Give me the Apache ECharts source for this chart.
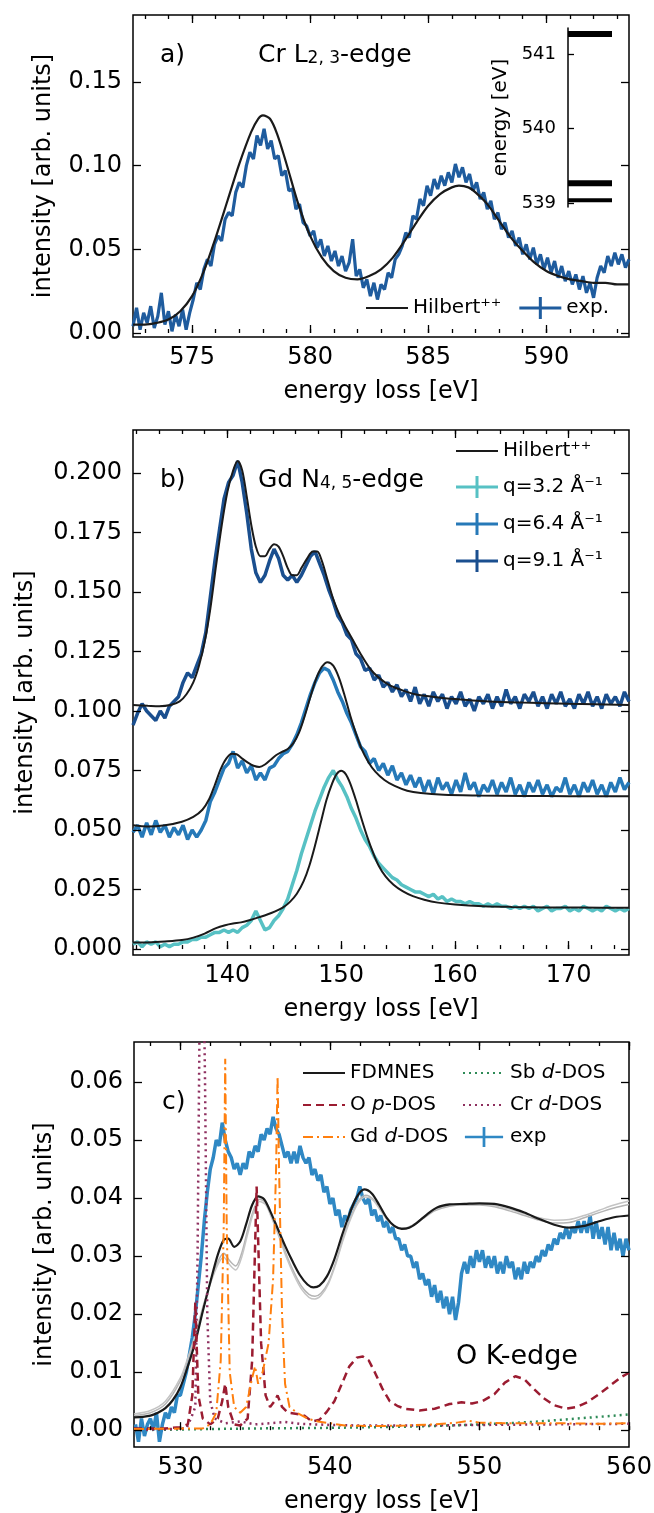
<!DOCTYPE html>
<html>
<head>
<meta charset="utf-8">
<script src="https://cdn.jsdelivr.net/npm/echarts@6/dist/echarts.min.js"></script>
<style>
  html, body { margin: 0; padding: 0; background: #fff; }
  #chart { width: 654px; height: 1513px; }
</style>
</head>
<body>
<div id="chart"></div>
<script>
// ---------- panel a) Cr L2,3-edge ----------
const aXTicks = [575, 580, 585, 590];
const aYTicks = [0, 0.05, 0.10, 0.15];
const aExpX0 = 572.5, aExpStep = 0.15;
const aExp = [
  0.004, 0.015, 0.002, 0.012, 0.006, 0.016, 0.003, 0.010, 0.024, 0.005,
  0.013, 0.001, 0.011, 0.004, 0.014, 0.002, 0.012, 0.020, 0.030, 0.026,
  0.038, 0.044, 0.040, 0.053, 0.058, 0.055, 0.068, 0.072, 0.070, 0.084,
  0.090, 0.087, 0.100, 0.108, 0.104, 0.118, 0.112, 0.122, 0.110, 0.115,
  0.104, 0.106, 0.094, 0.097, 0.085, 0.086, 0.074, 0.077, 0.066, 0.064,
  0.058, 0.061, 0.051, 0.056, 0.046, 0.052, 0.043, 0.049, 0.040, 0.046,
  0.037, 0.042, 0.056, 0.034, 0.038, 0.027, 0.032, 0.022, 0.030, 0.020,
  0.029, 0.026, 0.036, 0.033, 0.044, 0.047, 0.052, 0.060, 0.057, 0.070,
  0.068, 0.080, 0.076, 0.088, 0.082, 0.092, 0.086, 0.094, 0.088, 0.096,
  0.090, 0.101, 0.093, 0.099, 0.090, 0.095, 0.085, 0.090, 0.080, 0.084,
  0.074, 0.079, 0.068, 0.072, 0.062, 0.066, 0.057, 0.061, 0.052, 0.057,
  0.047, 0.053, 0.044, 0.051, 0.041, 0.047, 0.038, 0.045, 0.036, 0.043,
  0.033, 0.040, 0.031, 0.037, 0.029, 0.035, 0.026, 0.034, 0.024, 0.030,
  0.021, 0.033, 0.040, 0.036, 0.046, 0.040, 0.048, 0.041, 0.047, 0.039,
  0.044
];
const aTheory = [
  [572.5, 0.005], [573, 0.005], [573.5, 0.006], [574, 0.008], [574.5, 0.013], [575, 0.022],
  [575.5, 0.037], [576, 0.057], [576.5, 0.079], [577, 0.101], [577.5, 0.120], [577.8, 0.128],
  [578, 0.130], [578.3, 0.128], [578.6, 0.119], [579, 0.101], [579.5, 0.077], [580, 0.058],
  [580.5, 0.045], [581, 0.037], [581.5, 0.033], [582, 0.032], [582.5, 0.034], [583, 0.038],
  [583.5, 0.045], [584, 0.055], [584.5, 0.066], [585, 0.076], [585.5, 0.083], [586, 0.087],
  [586.3, 0.088], [586.7, 0.087], [587, 0.084], [587.5, 0.077], [588, 0.067], [588.5, 0.057],
  [589, 0.049], [589.5, 0.042], [590, 0.037], [590.5, 0.034], [591, 0.032], [591.5, 0.031],
  [592, 0.030], [592.5, 0.030], [593, 0.029], [593.5, 0.029]
];
// inset: energy levels
const aLevels = [541.27, 539.27, 539.04];
const aLevelTicks = [539, 540, 541];

// ---------- panel b) Gd N4,5-edge ----------
const bXTicks = [140, 150, 160, 170];
const bYTicks = [0, 0.025, 0.05, 0.075, 0.10, 0.125, 0.15, 0.175, 0.20];
const bExpX0 = 131.7, bExpStep = 0.4;
const bExpQ9 = [
  0.094, 0.099, 0.103, 0.100, 0.098, 0.096, 0.100, 0.097, 0.102, 0.104,
  0.106, 0.112, 0.116, 0.114, 0.119, 0.124, 0.133, 0.148, 0.163, 0.176,
  0.189, 0.196, 0.199, 0.205, 0.196, 0.183, 0.168, 0.158, 0.154, 0.157,
  0.163, 0.168, 0.164, 0.157, 0.155, 0.157, 0.154, 0.157, 0.161, 0.165,
  0.167, 0.162, 0.157, 0.151, 0.146, 0.140, 0.137, 0.132, 0.130, 0.124,
  0.122, 0.117, 0.118, 0.113, 0.115, 0.110, 0.112, 0.108, 0.111, 0.106,
  0.109, 0.104, 0.110, 0.103, 0.107, 0.102, 0.108, 0.104, 0.107, 0.101,
  0.106, 0.103, 0.108, 0.102, 0.105, 0.100, 0.106, 0.103, 0.107, 0.101,
  0.106, 0.102, 0.109, 0.103, 0.106, 0.101, 0.107, 0.104, 0.108, 0.102,
  0.106, 0.101, 0.107, 0.103, 0.108, 0.102, 0.105, 0.101, 0.107, 0.103,
  0.108, 0.102, 0.106, 0.101, 0.107, 0.103, 0.106, 0.102, 0.108, 0.104
];
const bExpQ6 = [
  0.049, 0.052, 0.047, 0.053, 0.048, 0.054, 0.049, 0.052, 0.047, 0.051,
  0.048, 0.052, 0.046, 0.050, 0.047, 0.050, 0.054, 0.062, 0.066, 0.071,
  0.076, 0.078, 0.083, 0.076, 0.079, 0.074, 0.077, 0.071, 0.074, 0.071,
  0.076, 0.077, 0.080, 0.082, 0.083, 0.086, 0.090, 0.095, 0.101, 0.107,
  0.112, 0.116, 0.118, 0.117, 0.113, 0.108, 0.104, 0.099, 0.095, 0.090,
  0.085, 0.083, 0.078, 0.080, 0.075, 0.078, 0.073, 0.077, 0.071, 0.074,
  0.069, 0.073, 0.068, 0.072, 0.066, 0.071, 0.065, 0.072, 0.067, 0.070,
  0.065, 0.071, 0.066, 0.074, 0.067, 0.070, 0.064, 0.069, 0.066, 0.071,
  0.065, 0.070, 0.066, 0.072, 0.065, 0.069, 0.064, 0.070, 0.066, 0.071,
  0.065, 0.069, 0.064, 0.068, 0.066, 0.072, 0.065, 0.069, 0.064, 0.070,
  0.066, 0.071, 0.065, 0.069, 0.064, 0.070, 0.066, 0.072, 0.067, 0.070
];
const bExpQ3 = [
  0.002, 0.003, 0.001, 0.003, 0.002, 0.003, 0.001, 0.002, 0.001, 0.002,
  0.002, 0.003, 0.003, 0.004, 0.004, 0.005, 0.005, 0.006, 0.007, 0.007,
  0.008, 0.007, 0.008, 0.007, 0.009, 0.010, 0.012, 0.016, 0.012, 0.008,
  0.009, 0.012, 0.014, 0.017, 0.021, 0.027, 0.033, 0.040, 0.046, 0.052,
  0.058, 0.063, 0.068, 0.072, 0.075, 0.071, 0.068, 0.064, 0.059, 0.055,
  0.050, 0.046, 0.043, 0.039, 0.036, 0.034, 0.032, 0.030, 0.029, 0.027,
  0.026, 0.025, 0.024, 0.024, 0.023, 0.022, 0.023, 0.021, 0.022, 0.020,
  0.021, 0.020, 0.020, 0.019, 0.020, 0.019, 0.019, 0.018, 0.019, 0.018,
  0.019, 0.018, 0.018, 0.017, 0.018, 0.017, 0.018, 0.017, 0.018, 0.016,
  0.017, 0.018, 0.016, 0.017, 0.017, 0.018, 0.016, 0.017, 0.016, 0.018,
  0.017, 0.016, 0.017, 0.016, 0.018, 0.017, 0.016, 0.017, 0.016, 0.017
];
const bTheoQ9 = [
  [131.7, 0.1025], [133, 0.1022], [134, 0.102], [135, 0.1025], [135.8, 0.104], [136.4, 0.107],
  [137, 0.112], [137.5, 0.119], [138, 0.129], [138.5, 0.143], [139, 0.161], [139.5, 0.178],
  [140, 0.192], [140.5, 0.201], [140.9, 0.205], [141.3, 0.201], [141.7, 0.190], [142.1, 0.178],
  [142.5, 0.169], [142.9, 0.165], [143.3, 0.165], [143.7, 0.168], [144.1, 0.170], [144.5, 0.169],
  [144.9, 0.165], [145.3, 0.160], [145.7, 0.157], [146.1, 0.157], [146.5, 0.160], [147, 0.164],
  [147.5, 0.167], [147.9, 0.167], [148.3, 0.163], [148.8, 0.155], [149.3, 0.147], [149.8, 0.141],
  [150.3, 0.136], [151, 0.130], [151.7, 0.124], [152.5, 0.118], [153.3, 0.114], [154.2, 0.111],
  [155.2, 0.109], [156.5, 0.107], [158, 0.106], [160, 0.105], [163, 0.104], [166, 0.1035],
  [170, 0.103], [175.3, 0.1025]
];
const bTheoQ6 = [
  [131.7, 0.052], [133, 0.0515], [134.5, 0.052], [136, 0.0535], [137, 0.0555], [137.8, 0.0585],
  [138.4, 0.063], [138.9, 0.069], [139.4, 0.0755], [139.9, 0.080], [140.4, 0.082], [140.8, 0.0818],
  [141.3, 0.080], [141.8, 0.0783], [142.3, 0.077], [142.8, 0.0765], [143.3, 0.0775], [143.8, 0.0795],
  [144.3, 0.0815], [144.8, 0.0828], [145.3, 0.084], [145.8, 0.0865], [146.3, 0.091], [146.8, 0.098],
  [147.3, 0.106], [147.8, 0.1135], [148.3, 0.1185], [148.8, 0.1205], [149.3, 0.119], [149.8, 0.114],
  [150.3, 0.1065], [150.8, 0.098], [151.3, 0.0905], [151.8, 0.084], [152.4, 0.0785], [153, 0.0745],
  [153.8, 0.071], [154.7, 0.0685], [155.8, 0.0665], [157, 0.0655], [159, 0.0648], [162, 0.0645],
  [166, 0.0643], [170, 0.0642], [175.3, 0.0642]
];
const bTheoQ3 = [
  [131.7, 0.0027], [133, 0.0028], [134.5, 0.0032], [136, 0.0038], [137, 0.0048], [138, 0.0065],
  [139, 0.0088], [139.8, 0.010], [140.5, 0.0107], [141.2, 0.0112], [142, 0.0122], [142.8, 0.0134],
  [143.5, 0.0145], [144.2, 0.0158], [144.9, 0.0175], [145.5, 0.0198], [146.1, 0.0232], [146.7, 0.0285],
  [147.2, 0.035], [147.7, 0.0435], [148.2, 0.053], [148.7, 0.0625], [149.2, 0.0695], [149.6, 0.0735],
  [150, 0.0749], [150.4, 0.0735], [150.8, 0.0695], [151.3, 0.0625], [151.8, 0.0545], [152.3, 0.047],
  [152.8, 0.0405], [153.3, 0.035], [153.9, 0.0305], [154.6, 0.027], [155.4, 0.0243], [156.3, 0.0222],
  [157.3, 0.0207], [158.5, 0.0195], [160, 0.0187], [162.5, 0.018], [165, 0.0177], [168, 0.0175],
  [171, 0.0174], [175.3, 0.0173]
];

// ---------- panel c) O K-edge ----------
const cXTicks = [530, 540, 550, 560];
const cYTicks = [0, 0.01, 0.02, 0.03, 0.04, 0.05, 0.06];
const cExpX0 = 527.0, cExpStep = 0.2;
const cExp = [
  0.001, -0.002, 0.002, -0.001, 0.001, 0.002, 0.000, 0.003, -0.002, 0.001,
  0.003, 0.002, 0.004, 0.003, 0.006, 0.006, 0.008, 0.010, 0.013, 0.016,
  0.020, 0.025, 0.030, 0.036, 0.041, 0.045, 0.047, 0.050, 0.049, 0.053,
  0.050, 0.048, 0.047, 0.045, 0.046, 0.044, 0.046, 0.045, 0.048, 0.047,
  0.049, 0.048, 0.051, 0.050, 0.052, 0.051, 0.054, 0.052, 0.051, 0.049,
  0.047, 0.048, 0.046, 0.048, 0.046, 0.049, 0.047, 0.046, 0.047, 0.044,
  0.045, 0.043, 0.044, 0.041, 0.042, 0.039, 0.040, 0.037, 0.038, 0.035,
  0.037, 0.036, 0.038, 0.039, 0.040, 0.042, 0.040, 0.039, 0.040, 0.037,
  0.038, 0.036, 0.037, 0.035, 0.036, 0.034, 0.035, 0.033, 0.033, 0.031,
  0.032, 0.030, 0.030, 0.028, 0.029, 0.026, 0.027, 0.025, 0.026, 0.023,
  0.025, 0.022, 0.024, 0.021, 0.023, 0.020, 0.023, 0.019, 0.022, 0.027,
  0.029, 0.027, 0.030, 0.028, 0.031, 0.029, 0.031, 0.028, 0.030, 0.028,
  0.030, 0.027, 0.029, 0.027, 0.030, 0.028, 0.029, 0.026, 0.028, 0.026,
  0.029, 0.027, 0.029, 0.028, 0.030, 0.029, 0.031, 0.030, 0.032, 0.031,
  0.033, 0.032, 0.034, 0.033, 0.035, 0.033, 0.035, 0.034, 0.036, 0.034,
  0.036, 0.034, 0.037, 0.033, 0.036, 0.033, 0.035, 0.032, 0.035, 0.031,
  0.034, 0.031, 0.033, 0.030, 0.033, 0.031
];
const cFdmnes = [
  [526.9, 0.0022], [527.5, 0.0023], [528, 0.0025], [528.5, 0.003], [529, 0.0038], [529.5, 0.0052],
  [530, 0.0074], [530.5, 0.011], [531, 0.0152], [531.5, 0.0205], [532, 0.0255], [532.5, 0.0302],
  [532.9, 0.0328], [533.2, 0.033], [533.6, 0.0316], [534, 0.0325], [534.4, 0.0355], [534.8, 0.0388],
  [535.2, 0.0403], [535.6, 0.0398], [536, 0.0378], [536.5, 0.0348], [537, 0.0318], [537.5, 0.0291],
  [538, 0.0267], [538.5, 0.0251], [538.9, 0.0246], [539.3, 0.0249], [539.8, 0.0265], [540.3, 0.0295],
  [540.8, 0.0335], [541.3, 0.0372], [541.8, 0.0402], [542.3, 0.0415], [542.8, 0.0408], [543.3, 0.0388],
  [543.8, 0.0366], [544.3, 0.0352], [544.8, 0.0347], [545.3, 0.0349], [545.8, 0.0357], [546.5, 0.0372],
  [547.2, 0.0384], [548, 0.0389], [549, 0.039], [550, 0.0391], [551, 0.039], [552, 0.0384],
  [553, 0.0375], [554, 0.0364], [555, 0.0354], [556, 0.0349], [557, 0.0352], [558, 0.036],
  [559, 0.0367], [560, 0.037]
];
const cFdmnesAlt1 = [
  [526.9, 0.0025], [528, 0.003], [529, 0.0045], [530, 0.0085], [530.5, 0.012], [531, 0.016],
  [531.5, 0.021], [532, 0.0255], [532.5, 0.029], [532.9, 0.0305], [533.3, 0.0292], [533.7, 0.0283],
  [534.1, 0.0305], [534.5, 0.0345], [534.9, 0.038], [535.3, 0.0398], [535.7, 0.0392], [536.1, 0.037],
  [536.6, 0.0338], [537.1, 0.0302], [537.6, 0.0272], [538.1, 0.0248], [538.6, 0.0234], [539, 0.0231],
  [539.4, 0.0236], [539.9, 0.0255], [540.4, 0.029], [540.9, 0.0332], [541.4, 0.0368], [541.9, 0.0395],
  [542.4, 0.0405], [542.9, 0.0398], [543.4, 0.038], [543.9, 0.0362], [544.4, 0.0351], [544.9, 0.0348],
  [545.5, 0.0352], [546.2, 0.0364], [547, 0.0378], [548, 0.0386], [549, 0.0388], [550, 0.0388],
  [551, 0.0385], [552, 0.0378], [553, 0.037], [554, 0.0362], [555, 0.0357], [556, 0.0358],
  [557, 0.0366], [558, 0.0375], [559, 0.0383], [560, 0.0389]
];
const cFdmnesAlt2 = [
  [526.9, 0.0028], [528, 0.0034], [529, 0.005], [530, 0.009], [530.5, 0.0125], [531, 0.0165],
  [531.5, 0.0212], [532, 0.0252], [532.5, 0.0285], [532.9, 0.0298], [533.3, 0.0285], [533.7, 0.0276],
  [534.1, 0.0298], [534.5, 0.0338], [534.9, 0.0375], [535.3, 0.0394], [535.7, 0.0389], [536.1, 0.0366],
  [536.6, 0.0333], [537.1, 0.0297], [537.6, 0.0267], [538.1, 0.0243], [538.6, 0.0229], [539, 0.0226],
  [539.4, 0.0232], [539.9, 0.0252], [540.4, 0.0287], [540.9, 0.0329], [541.4, 0.0365], [541.9, 0.0392],
  [542.4, 0.0402], [542.9, 0.0396], [543.4, 0.0378], [543.9, 0.036], [544.4, 0.035], [544.9, 0.0348],
  [545.5, 0.0353], [546.2, 0.0366], [547, 0.038], [548, 0.0388], [549, 0.039], [550, 0.039],
  [551, 0.0387], [552, 0.0381], [553, 0.0373], [554, 0.0366], [555, 0.0362], [556, 0.0363],
  [557, 0.037], [558, 0.0379], [559, 0.0388], [560, 0.0395]
];
const cOpDos = [
  [526.9, 0.0003], [529, 0.0003], [530, 0.0005], [530.5, 0.001], [530.8, 0.006], [531.0, 0.022],
  [531.2, 0.006], [531.5, 0.002], [532, 0.001], [532.5, 0.002], [532.8, 0.005], [533.0, 0.008],
  [533.2, 0.004], [533.6, 0.001], [534, 0.0008], [534.5, 0.002], [534.8, 0.012], [535.1, 0.042],
  [535.4, 0.015], [535.7, 0.006], [536.0, 0.004], [536.3, 0.005], [536.5, 0.006], [536.8, 0.004],
  [537.2, 0.003], [537.8, 0.0028], [538.3, 0.0025], [538.8, 0.0015], [539.3, 0.0018], [539.8, 0.0032],
  [540.3, 0.005], [540.8, 0.008], [541.3, 0.011], [541.8, 0.0125], [542.2, 0.0127], [542.6, 0.012],
  [543.0, 0.010], [543.5, 0.0072], [544, 0.005], [544.5, 0.0042], [545, 0.0037], [546, 0.0034],
  [547, 0.0037], [548, 0.0045], [548.8, 0.0048], [549.5, 0.0046], [550.2, 0.005], [551, 0.0062],
  [551.7, 0.0082], [552.4, 0.0093], [553, 0.0088], [553.6, 0.0072], [554.3, 0.0055], [555, 0.0043],
  [555.8, 0.0037], [556.5, 0.004], [557.2, 0.0048], [558, 0.0062], [558.8, 0.0078], [559.5, 0.0092],
  [560, 0.0099]
];
const cGdDos = [
  [526.9, 0.0002], [531.5, 0.0003], [532.0, 0.001], [532.4, 0.003], [532.7, 0.012], [532.9, 0.035],
  [533.0, 0.064], [533.1, 0.035], [533.3, 0.010], [533.6, 0.004], [534.0, 0.003], [534.4, 0.004],
  [534.8, 0.009], [535.0, 0.011], [535.2, 0.008], [535.5, 0.010], [535.9, 0.015], [536.2, 0.026],
  [536.4, 0.045], [536.5, 0.061], [536.6, 0.045], [536.8, 0.020], [537.0, 0.008], [537.3, 0.004],
  [537.8, 0.003], [538.5, 0.002], [539.2, 0.0015], [540, 0.0012], [541, 0.0008], [543, 0.0007],
  [545, 0.0008], [547, 0.001], [548.5, 0.0013], [549.3, 0.0016], [550, 0.0013], [552, 0.0012],
  [555, 0.0012], [558, 0.0011], [560, 0.0012]
];
const cSbDos = [
  [526.9, 0.0], [532, 0.0002], [535, 0.0003], [540, 0.0004], [545, 0.0006], [548, 0.0008],
  [550, 0.001], [552, 0.0012], [554, 0.0015], [556, 0.0019], [558, 0.0023], [560, 0.0027]
];
const cCrDos = [
  [526.9, 0.0], [530.4, 0.0003], [530.7, 0.002], [531.0, 0.004], [531.15, 0.03], [531.3, 0.075],
  [531.5, 0.09], [531.65, 0.06], [531.8, 0.02], [532.0, 0.005], [532.3, 0.002], [533, 0.0012],
  [534, 0.0015], [535, 0.001], [536, 0.0012], [537, 0.0014], [538, 0.0011], [539, 0.001],
  [540, 0.0009], [542, 0.0008], [545, 0.0008], [550, 0.0009], [555, 0.001], [560, 0.0011]
];

// ---------- setup ----------
const FONT = 'DejaVu Sans';
const BLACK = '#1a1a1a';
const CROSS = 'path://M0,9.5h42v3h-42z M19.5,0h3v22h-3z';

function range(a, b, s) {
  const r = [];
  for (let v = a; v <= b + 1e-9; v += s) r.push(+v.toFixed(4));
  return r;
}
function expPairs(vals, x0, step) {
  return vals.map((v, i) => [+(x0 + i * step).toFixed(3), v]);
}

const xAxes = [], yAxes = [];
function addAxis(list, o) {
  list.push({
    type: 'value', gridIndex: o.grid, min: o.min, max: o.max, position: o.pos,
    axisLine: { show: !!o.line, lineStyle: { color: '#000', width: 1.5 } },
    splitLine: { show: false },
    axisTick: { show: true, inside: true, length: o.len, customValues: o.ticks,
      lineStyle: { color: '#000', width: 1.3 } },
    axisLabel: o.fmt
      ? { show: true, customValues: o.ticks, formatter: o.fmt, fontFamily: FONT,
          fontSize: o.fs || 24, color: '#000', margin: o.margin || 10 }
      : { show: false },
    name: o.name || '', nameLocation: 'middle', nameGap: o.gap || 0,
    nameTextStyle: { fontFamily: FONT, fontSize: o.nfs || 24, color: '#000' },
    z: 5
  });
  return list.length - 1;
}
function panelAxes(g, xr, yr, xMaj, xMin, yMaj, yDec, yGap) {
  const xi = addAxis(xAxes, { grid: g, min: xr[0], max: xr[1], pos: 'bottom', ticks: xMaj, len: 8,
    fmt: v => String(Math.round(v)), margin: 9, name: 'energy loss [eV]', gap: 43 });
  addAxis(xAxes, { grid: g, min: xr[0], max: xr[1], pos: 'bottom', ticks: xMin, len: 4 });
  addAxis(xAxes, { grid: g, min: xr[0], max: xr[1], pos: 'top', ticks: xMaj, len: 8 });
  addAxis(xAxes, { grid: g, min: xr[0], max: xr[1], pos: 'top', ticks: xMin, len: 4 });
  const yi = addAxis(yAxes, { grid: g, min: yr[0], max: yr[1], pos: 'left', ticks: yMaj, len: 8,
    fmt: v => v.toFixed(yDec), margin: 11, name: 'intensity [arb. units]', gap: yGap });
  addAxis(yAxes, { grid: g, min: yr[0], max: yr[1], pos: 'right', ticks: yMaj, len: 8 });
  return [xi, yi];
}

const grids = [
  { left: 133, top: 15, width: 496, height: 322 },
  { left: 568, top: 28, width: 44, height: 179 },
  { left: 133, top: 430, width: 496, height: 525 },
  { left: 134, top: 1042, width: 495, height: 405 }
].map((g, i) => Object.assign({
  show: i !== 1, borderColor: '#000', borderWidth: 1.5, backgroundColor: 'rgba(0,0,0,0)',
  containLabel: false, outerBoundsMode: 'none'
}, g));

const [axA, ayA] = panelAxes(0, [572.5, 593.5], [-0.0024, 0.19], aXTicks, range(573, 593, 1), aYTicks, 2, 77);
// inset axes
xAxes.push({ type: 'value', gridIndex: 1, min: 0, max: 1, show: false });
const axIn = xAxes.length - 1;
const ayIn = addAxis(yAxes, { grid: 1, min: 538.95, max: 541.35, pos: 'left', ticks: aLevelTicks, len: 6,
  line: true, fmt: v => String(Math.round(v)), fs: 18, margin: 12, name: 'energy [eV]', gap: 57, nfs: 20 });
const [axB, ayB] = panelAxes(2, [131.7, 175.3], [-0.0025, 0.218], bXTicks, range(132, 174, 2), bYTicks, 3, 95);
const [axC, ayC] = panelAxes(3, [526.9, 560], [-0.0029, 0.0669], cXTicks, range(528, 560, 2), cYTicks, 2, 77);

function ser(name, data, xi, yi, color, width, extra) {
  return Object.assign({
    name, type: 'line', xAxisIndex: xi, yAxisIndex: yi, data,
    symbol: 'none', showSymbol: false, clip: true, silent: true, animation: false,
    lineStyle: { color, width }, itemStyle: { color }, emphasis: { disabled: true }
  }, extra || {});
}

const series = [
  // a)
  ser('exp.', expPairs(aExp, aExpX0, aExpStep), axA, ayA, '#1f5c9e', 3.2),
  ser('Hilbert⁺⁺', aTheory, axA, ayA, BLACK, 2.2, { smooth: 0.3 }),
  // inset levels
  ...aLevels.map((v, i) => ser('level' + i, [[0, v], [1, v]], axIn, ayIn, '#000', i < 2 ? 6 : 4)),
  // b)
  ser('q=3.2 Å⁻¹', expPairs(bExpQ3, bExpX0, bExpStep), axB, ayB, '#57c1c4', 3.5),
  ser('q=6.4 Å⁻¹', expPairs(bExpQ6, bExpX0, bExpStep), axB, ayB, '#2679b8', 3.5),
  ser('q=9.1 Å⁻¹', expPairs(bExpQ9, bExpX0, bExpStep), axB, ayB, '#1a4f8f', 3.5),
  ser('Hilbert⁺⁺', bTheoQ3, axB, ayB, BLACK, 2, { smooth: 0.3 }),
  ser('Hilbert⁺⁺', bTheoQ6, axB, ayB, BLACK, 2, { smooth: 0.3 }),
  ser('Hilbert⁺⁺', bTheoQ9, axB, ayB, BLACK, 2, { smooth: 0.3 }),
  // c)
  ser('exp', expPairs(cExp, cExpX0, cExpStep), axC, ayC, '#2f88c4', 3.5),
  ser('alt1', cFdmnesAlt1, axC, ayC, '#b4b4b4', 1.5, { smooth: 0.3 }),
  ser('alt2', cFdmnesAlt2, axC, ayC, '#c4c4c4', 1.5, { smooth: 0.3 }),
  ser('FDMNES', cFdmnes, axC, ayC, BLACK, 2.2, { smooth: 0.3 }),
  ser('Sb d-DOS', cSbDos, axC, ayC, '#2e8b57', 2.5, { lineStyle: { color: '#2e8b57', width: 2.5, type: [2, 4] } }),
  ser('Cr d-DOS', cCrDos, axC, ayC, '#8e2f5f', 2.5, { lineStyle: { color: '#8e2f5f', width: 2.5, type: [2, 4] } }),
  ser('O p-DOS', cOpDos, axC, ayC, '#9b1c31', 2.5, { lineStyle: { color: '#9b1c31', width: 2.5, type: [8, 5] } }),
  ser('Gd d-DOS', cGdDos, axC, ayC, '#ff7f0e', 2, { lineStyle: { color: '#ff7f0e', width: 2, type: [10, 4, 2, 4] } })
];

const legendCommon = {
  selectedMode: false, padding: 0, itemWidth: 42, itemHeight: 22,
  itemStyle: { opacity: 0 },
  textStyle: { fontFamily: FONT, fontSize: 20, color: '#000',
    rich: { i: { fontFamily: FONT, fontSize: 20, fontStyle: 'italic', color: '#000' } } },
  formatter: n => ({ 'O p-DOS': 'O {i|p}-DOS', 'Gd d-DOS': 'Gd {i|d}-DOS',
    'Sb d-DOS': 'Sb {i|d}-DOS', 'Cr d-DOS': 'Cr {i|d}-DOS' }[n] || n)
};
const crossItem = n => ({ name: n, icon: CROSS, itemStyle: { opacity: 1 } });

const option = {
  animation: false,
  backgroundColor: '#fff',
  grid: grids,
  xAxis: xAxes,
  yAxis: yAxes,
  legend: [
    Object.assign({}, legendCommon, { data: ['Hilbert⁺⁺', crossItem('exp.')], left: 365, top: 297, itemGap: 18 }),
    Object.assign({}, legendCommon, { orient: 'vertical', left: 455, top: 441, itemGap: 15,
      data: ['Hilbert⁺⁺', crossItem('q=3.2 Å⁻¹'), crossItem('q=6.4 Å⁻¹'), crossItem('q=9.1 Å⁻¹')] }),
    Object.assign({}, legendCommon, { orient: 'vertical', left: 302, top: 1063, itemHeight: 20, itemGap: 12,
      data: ['FDMNES', 'O p-DOS', 'Gd d-DOS'] }),
    Object.assign({}, legendCommon, { orient: 'vertical', left: 462, top: 1063, itemHeight: 20, itemGap: 12,
      data: ['Sb d-DOS', 'Cr d-DOS', crossItem('exp')] })
  ],
  graphic: [
    { type: 'text', x: 160, y: 55, style: { text: 'a)', fontSize: 25, fontFamily: FONT, fill: '#000', verticalAlign: 'middle' } },
    { type: 'text', x: 258, y: 55, style: { text: 'Cr L{s|2, 3}-edge', fontSize: 25, fontFamily: FONT, fill: '#000', verticalAlign: 'middle',
      rich: { s: { fontSize: 17, fontFamily: FONT, fill: '#000', verticalAlign: 'bottom', lineHeight: 17 } } } },
    { type: 'text', x: 160, y: 480, style: { text: 'b)', fontSize: 25, fontFamily: FONT, fill: '#000', verticalAlign: 'middle' } },
    { type: 'text', x: 258, y: 480, style: { text: 'Gd N{s|4, 5}-edge', fontSize: 25, fontFamily: FONT, fill: '#000', verticalAlign: 'middle',
      rich: { s: { fontSize: 17, fontFamily: FONT, fill: '#000', verticalAlign: 'bottom', lineHeight: 17 } } } },
    { type: 'text', x: 162, y: 1102, style: { text: 'c)', fontSize: 25, fontFamily: FONT, fill: '#000', verticalAlign: 'middle' } },
    { type: 'text', x: 456, y: 1357, style: { text: 'O K-edge', fontSize: 27, fontFamily: FONT, fill: '#000', verticalAlign: 'middle' } }
  ],
  series
};

const chart = echarts.init(document.getElementById('chart'));
chart.setOption(option);
</script>
</body>
</html>
